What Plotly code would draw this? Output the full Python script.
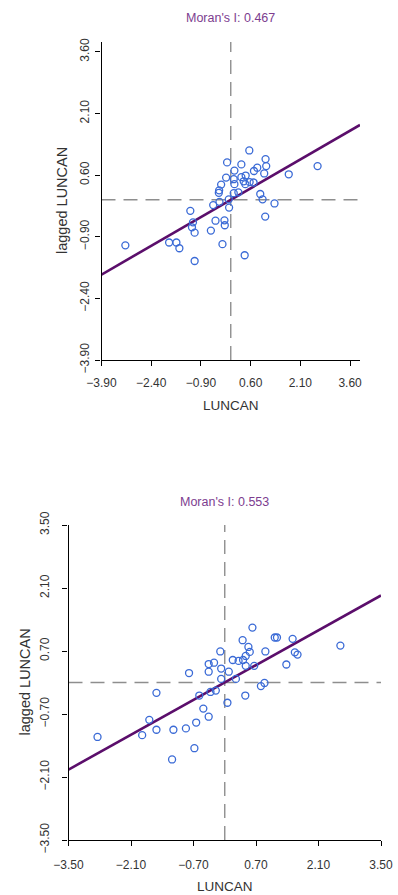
import plotly.graph_objects as go

W, H = 398, 895

# ---------------- data ----------------
moran_values = [0.467, 0.553]
titles = ["Moran's I: 0.467", "Moran's I: 0.553"]
x_label = "LUNCAN"
y_label = "lagged LUNCAN"

top_ticks = [-3.90, -2.40, -0.90, 0.60, 2.10, 3.60]
bot_ticks = [-3.50, -2.10, -0.70, 0.70, 2.10, 3.50]

top_x = [0.56, -0.11, 0.32, 1.05, 1.07, 0.80, 0.70, 0.11, 1.01, 1.75, 2.62,
         -0.14, 0.32, 0.45, 0.09, 0.11, 0.39, 0.57, 0.69, 0.44, -0.29, -0.35,
         -0.36, 0.23, 0.89, 0.96, 1.32, -0.06, -0.34, -0.53, -0.05, -1.22,
         1.04, -0.46, -0.19, -0.18, -1.14, -1.17, -1.09, -0.60, -0.25, -3.18,
         -1.86, -1.64, -1.55, -1.09, 0.42, 0.09]
top_y = [1.20, 0.91, 0.86, 0.99, 0.82, 0.78, 0.70, 0.71, 0.64, 0.62, 0.82,
         0.54, 0.55, 0.59, 0.50, 0.38, 0.45, 0.43, 0.42, 0.38, 0.37, 0.23,
         0.17, 0.18, 0.14, 0.01, -0.09, 0.01, -0.05, -0.13, -0.19, -0.27,
         -0.41, -0.51, -0.50, -0.62, -0.55, -0.67, -0.80, -0.75, -1.08, -1.11,
         -1.04, -1.04, -1.18, -1.49, -1.35, 0.16]

bot_x = [-2.85, -1.85, -1.69, -1.53, -1.53, -1.15, -0.87, -0.64, -0.48, -0.36,
         -0.68, -1.18, -0.80, -0.36, -0.36, -0.24, -0.57, -0.32, -0.20, -0.08,
         0.09, 0.06, 0.25, -0.08, 0.46, 0.81, 0.89, 0.47, 0.66, 0.18, 0.31,
         0.41, 0.47, 0.56, 0.53, 0.40, 0.62, 1.12, 1.17, 1.52, 2.59, 0.91,
         1.57, 1.63, -0.10, 1.38]
bot_y = [-1.21, -1.17, -0.83, -0.23, -1.05, -1.05, -1.02, -0.89, -0.58, -0.76,
         -1.46, -1.71, 0.21, 0.24, 0.41, 0.44, -0.29, -0.21, -0.18, 0.31,
         0.24, -0.45, 0.08, 0.08, -0.29, -0.08, -0.01, 0.37, 0.37, 0.50, 0.48,
         0.50, 0.59, 0.68, 0.79, 0.94, 1.22, 1.00, 1.00, 0.97, 0.82, 0.69,
         0.67, 0.62, 0.69, 0.40]

# ---------------- layout helpers (window pixels -> paper) ----------------
def px_x(p):
    return p / W

def px_y(p):
    return 1 - p / H

MARKER = "#3a6ad6"
LINE = "#5b0e6b"
TITLE = "#7d3d8f"
DASH = "#8e8e8e"
TXT = "#333333"
FONT = "Liberation Sans, Arial, sans-serif"

panels = [
    dict(x=top_x, y=top_y, I=moran_values[0], title=titles[0], ticks=top_ticks,
         xr=[-3.9, 3.9], yr=[-3.9, 3.84],
         xdom=[px_x(101.5), px_x(360)], ydom=[px_y(360), px_y(42)],
         title_xy=(230.5, 18), xlab_y=405, ylab_x=62, ystand=2, xstand=6),
    dict(x=bot_x, y=bot_y, I=moran_values[1], title=titles[1], ticks=bot_ticks,
         xr=[-3.5, 3.5], yr=[-3.5, 3.5],
         xdom=[px_x(68.5), px_x(381)], ydom=[px_y(840), px_y(525)],
         title_xy=(224.5, 502), xlab_y=886, ylab_x=24, ystand=9, xstand=8),
]

fig = go.Figure()
annotations = []
shapes = []
layout_axes = {}

for i, p in enumerate(panels):
    n = "" if i == 0 else str(i + 1)
    xa, ya = "x" + n, "y" + n
    # regression line (slope = Moran's I)
    fig.add_trace(go.Scatter(
        x=[p["xr"][0], p["xr"][1]], y=[p["I"] * p["xr"][0], p["I"] * p["xr"][1]],
        mode="lines", line=dict(color=LINE, width=2.6),
        xaxis=xa, yaxis=ya, showlegend=False, hoverinfo="skip"))
    # points
    fig.add_trace(go.Scatter(
        x=p["x"], y=p["y"], mode="markers",
        marker=dict(symbol="circle-open", size=7, color=MARKER,
                    line=dict(width=1.3, color=MARKER)),
        xaxis=xa, yaxis=ya, showlegend=False, cliponaxis=False))
    # dashed reference lines
    shapes.append(dict(type="line", xref=xa, yref=ya, x0=0, x1=0,
                       y0=p["yr"][0], y1=p["yr"][1],
                       line=dict(color=DASH, width=1.4, dash="14px,8px"), layer="below"))
    shapes.append(dict(type="line", xref=xa, yref=ya, y0=0, y1=0,
                       x0=p["xr"][0], x1=p["xr"][1],
                       line=dict(color=DASH, width=1.4, dash="14px,8px"), layer="below"))
    common = dict(showgrid=False, zeroline=False, showline=True, linecolor="black",
                  linewidth=1.3, ticks="outside", ticklen=5, tickwidth=1.2,
                  tickcolor="black", tickvals=p["ticks"], tickformat=".2f",
                  tickfont=dict(family=FONT, size=12, color=TXT), fixedrange=True,
                  automargin=False)
    layout_axes["xaxis" + n] = dict(common, domain=p["xdom"], range=p["xr"],
                                    anchor=ya, ticklabelstandoff=p["xstand"])
    layout_axes["yaxis" + n] = dict(common, domain=p["ydom"], range=p["yr"],
                                    anchor=xa, tickangle=-90,
                                    ticklabelstandoff=p["ystand"])
    # title
    annotations.append(dict(text=p["title"], x=px_x(p["title_xy"][0]),
                            y=px_y(p["title_xy"][1]), xref="paper", yref="paper",
                            showarrow=False, xanchor="center", yanchor="middle",
                            font=dict(family=FONT, size=12.5, color=TITLE)))
    # axis labels
    annotations.append(dict(text=x_label, x=(p["xdom"][0] + p["xdom"][1]) / 2,
                            y=px_y(p["xlab_y"]), xref="paper", yref="paper",
                            showarrow=False, xanchor="center", yanchor="middle",
                            font=dict(family=FONT, size=13.5, color=TXT)))
    annotations.append(dict(text=y_label, x=px_x(p["ylab_x"]),
                            y=(p["ydom"][0] + p["ydom"][1]) / 2, textangle=-90,
                            xref="paper", yref="paper",
                            showarrow=False, xanchor="center", yanchor="middle",
                            font=dict(family=FONT, size=14.5, color=TXT)))

fig.update_layout(width=W, height=H, margin=dict(l=0, r=0, t=0, b=0),
                  paper_bgcolor="white", plot_bgcolor="white",
                  annotations=annotations, shapes=shapes, **layout_axes)

# remove the page's default 8px body margin so the figure fills the window
fig.write_html("out.html", config={"displayModeBar": False},
               post_script="document.body.style.margin='0';"
                           "document.body.style.overflow='hidden';")
